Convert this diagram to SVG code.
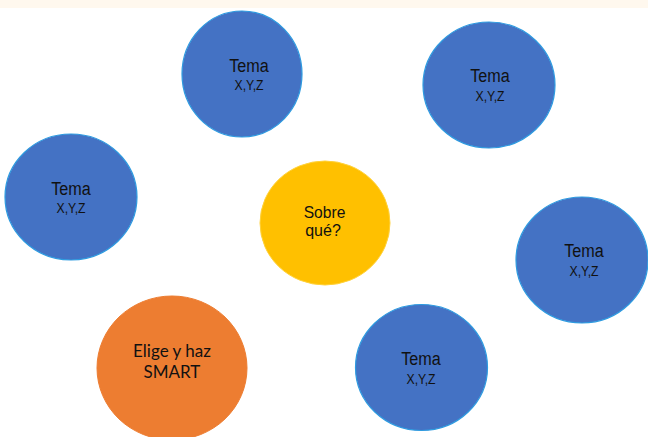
<svg xmlns="http://www.w3.org/2000/svg" width="648" height="437" viewBox="0 0 648 437">
<style>
.topic{fill:#4472C4;stroke:#2E9BE0;stroke-width:1.2}
.core{fill:#FFC000;stroke:#FFD23A;stroke-width:1}
.smart{fill:#ED7D31;stroke:#ED7D31;stroke-width:1}
text{font-family:"Liberation Sans",Arial,sans-serif;font-size:18px;fill:#111;text-anchor:middle}
.t1{font-size:18px}
.t2{font-size:15px}
.t3{font-size:17px}
.cal{font-family:Lato,"Liberation Sans",sans-serif;font-size:17px}
</style>
<rect x="0" y="0" width="648" height="437" fill="#FFFFFF"/>
<rect x="0" y="0" width="648" height="8" fill="#FFF8EE"/>
<g id="connectors"/>
<g id="tema-top">
<ellipse class="topic" cx="242" cy="74" rx="60" ry="63"/>
<text class="t1" x="249" y="71.5" textLength="39.5" lengthAdjust="spacingAndGlyphs">Tema</text><text class="t2" x="249" y="89.5" textLength="29" lengthAdjust="spacingAndGlyphs">X,Y,Z</text>
</g>
<g id="tema-topright">
<ellipse class="topic" cx="489" cy="85" rx="66" ry="63"/>
<text class="t1" x="490" y="81.5" textLength="39.5" lengthAdjust="spacingAndGlyphs">Tema</text><text class="t2" x="490" y="100.5" textLength="29" lengthAdjust="spacingAndGlyphs">X,Y,Z</text>
</g>
<g id="tema-left">
<ellipse class="topic" cx="71" cy="197" rx="66" ry="63"/>
<text class="t1" x="71" y="194.5" textLength="39.5" lengthAdjust="spacingAndGlyphs">Tema</text><text class="t2" x="71" y="212.5" textLength="29" lengthAdjust="spacingAndGlyphs">X,Y,Z</text>
</g>
<g id="sobre-que">
<ellipse class="core" cx="325" cy="223" rx="65" ry="62"/>
<text class="t3" x="324.5" y="218" textLength="41.7" lengthAdjust="spacingAndGlyphs">Sobre</text><text class="t3" x="323" y="236" textLength="35.7" lengthAdjust="spacingAndGlyphs">qué?</text>
</g>
<g id="tema-right">
<ellipse class="topic" cx="582" cy="260" rx="66" ry="63"/>
<text class="t1" x="584" y="256.5" textLength="39.5" lengthAdjust="spacingAndGlyphs">Tema</text><text class="t2" x="584" y="275.5" textLength="29" lengthAdjust="spacingAndGlyphs">X,Y,Z</text>
</g>
<g id="tema-bottom">
<ellipse class="topic" cx="421.5" cy="367.5" rx="66" ry="63"/>
<text class="t1" x="421" y="364.5" textLength="39.5" lengthAdjust="spacingAndGlyphs">Tema</text><text class="t2" x="421" y="383.5" textLength="29" lengthAdjust="spacingAndGlyphs">X,Y,Z</text>
</g>
<g id="elige-smart">
<ellipse class="smart" cx="172" cy="368" rx="75" ry="72"/>
<text class="cal" x="172" y="357">Elige y haz</text><text class="cal" x="172" y="378">SMART</text>
</g>
</svg>
